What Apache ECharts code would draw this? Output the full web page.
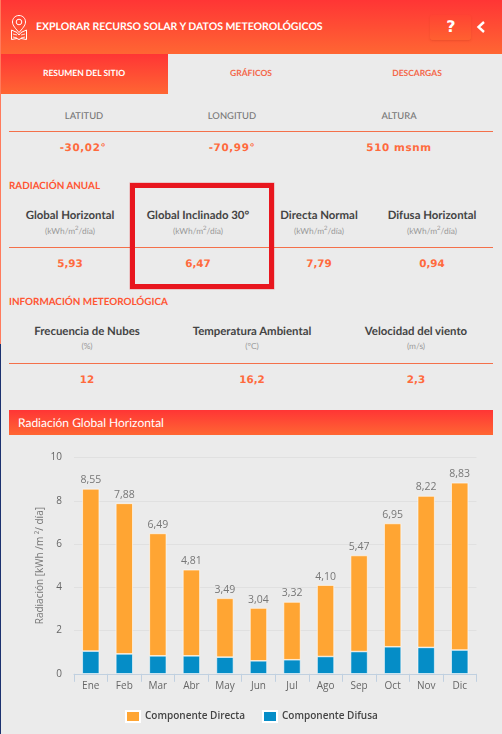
<!DOCTYPE html>
<html><head><meta charset="utf-8">
<script src="https://cdn.jsdelivr.net/npm/echarts@6/dist/echarts.min.js"></script>
<style>
html,body{margin:0;padding:0;width:502px;height:734px;overflow:hidden;background:#ebebeb;font-family:"Lato",sans-serif;text-rendering:geometricPrecision}
#page{position:absolute;left:0;top:0;width:502px;height:734px;overflow:hidden}
.t{position:absolute;white-space:nowrap;transform:translateX(-50%)}
.l{position:absolute;white-space:nowrap}
.grad{background:linear-gradient(#ff3535,#ff6633)}
.hr{position:absolute;left:9px;width:484px;height:1px;background:#f4704a}
.sec{font:700 9.9px "Lato",sans-serif;color:#ff5533}
.hd{font:500 9.4px "Lato",sans-serif;color:#777}
.nm{font:700 11.4px "Lato",sans-serif;color:#444}
.un{font:400 8.4px "Lato",sans-serif;color:#999}
.un sup{font-size:6px;line-height:0}
.val{font:700 10.4px "DejaVu Sans",sans-serif;color:#ff6a3d}
#chart{position:absolute;left:0;top:436px;width:502px;height:298px}
</style></head><body>
<div id="page">
<div class="grad" style="position:absolute;left:0;top:0;width:502px;height:54px"></div>
<svg style="position:absolute;left:9px;top:14px" width="20" height="27" viewBox="0 0 20 27" fill="none" stroke="#fff" stroke-width="1">
<path d="M10 1.500c-4 0-6.500 3-6.500 6.500 0 3.500 3.500 7 6.500 10.500 3-3.500 6.500-7 6.500-10.500 0-3.500-2.500-6.500-6.500-6.500z"/><circle cx="10" cy="8" r="2.800"/>
<path d="M2.500 16l5.500 2.500 2 2.500 2-2.500 5.500-2.500v9.500l-5.500-1-2 1-2-1-5.500 1z"/><path d="M4 20l4 1M4 23l4 1M16 20l-4 1M16 23l-4 1" stroke-width=".8"/></svg>
<div class="l" style="left:36px;top:21px;font:700 10.5px 'Lato',sans-serif;color:#fff">EXPLORAR RECURSO SOLAR Y DATOS METEOROLÓGICOS</div>
<div style="position:absolute;left:430px;top:15px;width:41px;height:25px;border-radius:3px;background:linear-gradient(#ff4433,#ff6030);box-shadow:0 1px 2px rgba(200,60,30,.35)"></div>
<div class="t" style="left:451px;top:17px;font:700 16px 'DejaVu Sans',sans-serif;color:#fff">?</div>
<svg style="position:absolute;left:475px;top:20px" width="12" height="14" viewBox="0 0 12 14" fill="none" stroke="#fff" stroke-width="2.400"><path d="M9 2L3.500 7 9 12"/></svg>

<div class="grad" style="position:absolute;left:1px;top:54px;width:167px;height:40px"></div>
<div class="t" style="left:84px;top:68px;font:700 8.5px 'Lato',sans-serif;color:#fff">RESUMEN DEL SITIO</div>
<div class="t" style="left:251px;top:68px;font:700 8.5px 'Lato',sans-serif;color:#f4674a">GRÁFICOS</div>
<div class="t" style="left:417px;top:68px;font:700 8.5px 'Lato',sans-serif;color:#f4674a">DESCARGAS</div>

<div class="t hd" style="left:84px;top:111px">LATITUD</div>
<div class="t hd" style="left:232px;top:111px">LONGITUD</div>
<div class="t hd" style="left:399px;top:111px">ALTURA</div>
<div class="hr" style="top:131px"></div>
<div class="t val" style="left:83px;top:142px;letter-spacing:.6px">-30,02°</div>
<div class="t val" style="left:232px;top:142px;letter-spacing:.6px">-70,99°</div>
<div class="t val" style="left:399px;top:142px;letter-spacing:.6px">510 msnm</div>

<div class="l sec" style="left:9px;top:180px">RADIACIÓN ANUAL</div>
<div class="t nm" style="left:70px;top:209px">Global Horizontal</div>
<div class="t nm" style="left:198px;top:209px">Global Inclinado 30°</div>
<div class="t nm" style="left:319px;top:209px">Directa Normal</div>
<div class="t nm" style="left:432px;top:209px">Difusa Horizontal</div>
<div class="t un" style="left:70px;top:226px">(kWh/m<sup>2</sup>/día)</div>
<div class="t un" style="left:198px;top:226px">(kWh/m<sup>2</sup>/día)</div>
<div class="t un" style="left:319px;top:226px">(kWh/m<sup>2</sup>/día)</div>
<div class="t un" style="left:432px;top:226px">(kWh/m<sup>2</sup>/día)</div>
<div class="hr" style="top:247px"></div>
<div class="t val" style="left:70px;top:258px">5,93</div>
<div class="t val" style="left:198px;top:258px">6,47</div>
<div class="t val" style="left:319px;top:258px">7,79</div>
<div class="t val" style="left:432px;top:258px">0,94</div>
<div style="position:absolute;left:130px;top:183px;width:134px;height:96px;border:5px solid #e8161e;box-shadow:0 0 0 .5px rgba(232,22,30,.35)"></div>

<div class="l sec" style="left:9px;top:296px">INFORMACIÓN METEOROLÓGICA</div>
<div class="t nm" style="left:87px;top:325px">Frecuencia de Nubes</div>
<div class="t nm" style="left:252px;top:325px">Temperatura Ambiental</div>
<div class="t nm" style="left:416px;top:325px">Velocidad del viento</div>
<div class="t un" style="left:87px;top:341px">(%)</div>
<div class="t un" style="left:252px;top:341px">(°C)</div>
<div class="t un" style="left:416px;top:341px">(m/s)</div>
<div class="hr" style="top:363px"></div>
<div class="t val" style="left:87px;top:374px">12</div>
<div class="t val" style="left:252px;top:374px">16,2</div>
<div class="t val" style="left:416px;top:374px">2,3</div>

<div class="grad" style="position:absolute;left:9px;top:410px;width:484px;height:25px"></div>
<div class="l" style="left:18px;top:415px;font:400 12px 'Lato',sans-serif;color:#fff">Radiación Global Horizontal</div>

<div id="chart"></div>
<div style="position:absolute;left:0;top:0;width:1px;height:344px;background:#ff7a5c"></div>
<div style="position:absolute;left:0;top:344px;width:1px;height:390px;background:#1c3270"></div>
</div>
<script>
const meses = ["Ene","Feb","Mar","Abr","May","Jun","Jul","Ago","Sep","Oct","Nov","Dic"];
const totales = ["8,55","7,88","6,49","4,81","3,49","3,04","3,32","4,10","5,47","6,95","8,22","8,83"];
const difusa = [1.05,0.92,0.83,0.83,0.77,0.60,0.65,0.80,1.03,1.25,1.22,1.10];
const directa = [7.50,6.96,5.66,3.98,2.72,2.44,2.67,3.30,4.44,5.70,7.00,7.73];
const chart = echarts.init(document.getElementById('chart'),null,{renderer:'canvas'});
chart.setOption({
  animation:false,
  backgroundColor:'transparent',
  textStyle:{fontFamily:'"Open Sans",sans-serif'},
  grid:{left:74,right:25.5,top:21.5,height:216.3},
  legend:{
    data:['Componente Directa','Componente Difusa'],bottom:6,left:120,itemWidth:14,itemHeight:11,itemGap:17,icon:'rect',
    textStyle:{color:'#444',fontSize:10,fontWeight:600,fontFamily:'"Open Sans",sans-serif'}
  },
  xAxis:{type:'category',data:meses,
    axisLine:{lineStyle:{color:'#c0d0e0',width:1}},
    axisTick:{show:true,length:8,lineStyle:{color:'#c0d0e0'}},
    axisLabel:{color:'#666',fontSize:10,margin:7}},
  yAxis:{type:'value',min:0,max:10,interval:2,
    name:'Radiación [kWh /m ²/ día]',nameLocation:'middle',nameGap:29,nameMoveOverlap:false,
    nameTextStyle:{color:'#777',fontSize:10},
    axisLine:{show:false},axisTick:{show:false},
    axisLabel:{color:'#666',fontSize:10,margin:12},
    splitLine:{lineStyle:{color:'#e0e0e0',width:1}}},
  series:[
    {name:'Componente Difusa',type:'bar',stack:'r',data:difusa,barWidth:17,
     itemStyle:{color:'#058dc7',borderColor:'#fff',borderWidth:.6}},
    {name:'Componente Directa',type:'bar',stack:'r',data:directa,barWidth:17,
     itemStyle:{color:'#ffa533',borderColor:'#fff',borderWidth:.6},
     label:{show:true,position:'top',distance:3,color:'#777',fontSize:10.5,fontWeight:500,
       formatter:p=>totales[p.dataIndex]}}
  ],
  color:['#058dc7','#ffa533']
});
</script>
</body></html>
